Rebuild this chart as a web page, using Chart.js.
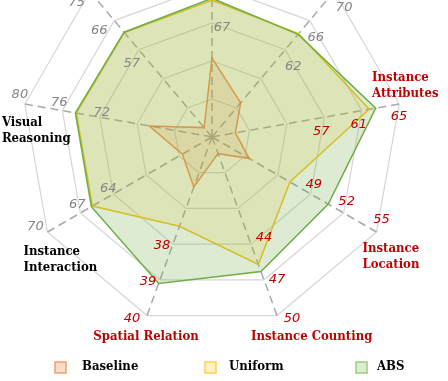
<!DOCTYPE html>
<html>
<head>
<meta charset="utf-8">
<script src="https://cdn.jsdelivr.net/npm/chart.js@4.4.0/dist/chart.umd.min.js"></script>
<style>
  body { margin: 0; overflow: hidden; background: #fff; }
  #wrap { position: absolute; left: 0; top: -53px; width: 448px; height: 434px; }
</style>
</head>
<body>
<div id="wrap"><canvas id="radarChart" width="448" height="434"></canvas></div>
<script>
// eixos, a partir do topo e em sentido horario
const categorias = ['Scene Understanding', 'Instance Identity', 'Instance Attributes', 'Instance Location',
  'Instance Counting', 'Spatial Relation', 'Instance Interaction', 'Visual Reasoning', 'Text Understanding'];

const baseline = [63.3, 54.7, 47.5, 43.4, 36.4, 36.4, 57.7, 66.7, 32.9];
const uniform = [69.4, 64.2, 61.8, 47.1, 45.7, 37.5, 65.9, 74.5, 62.3];
const abs = [69.6, 64.1, 62.5, 50.6, 46.3, 39.1, 66.0, 74.6, 62.4];

// rotulos dos aneis 3, 4 e 5 de cada eixo
const ticksEixo = [[67, 71, 75], [62, 66, 70], [57, 61, 65], [49, 52, 55], [44, 47, 50],
  [38, 39, 40], [64, 67, 70], [72, 76, 80], [57, 66, 75]];

const series = ['Baseline', 'Uniform', 'ABS'];

// cada eixo tem a sua propria escala: 5 aneis, passo = diferenca entre os ticks
function normalizar(i, v) {
  const t = ticksEixo[i];
  const passo = t[2] - t[1];
  const minimo = t[2] - 5 * passo;
  return (v - minimo) / passo;
}

const vermelho = '#c00000';
const cinza = '#858585';
const corEixo = [cinza, cinza, vermelho, vermelho, vermelho, vermelho, cinza, cinza, cinza];
const corRotulo = ['#000', '#000', vermelho, vermelho, vermelho, vermelho, '#000', '#000', '#000'];

const linhasRotulo = [['Scene Understanding'], ['Instance Identity'], ['Instance', 'Attributes'], ['Instance', 'Location'],
  ['Instance Counting'], ['Spatial Relation'], ['Instance', 'Interaction'], ['Visual', 'Reasoning'], ['Text Understanding']];
// deslocamento do rotulo em relacao ao vertice externo [dx, dy, alinhamento]
const posRotulo = [[0, -24, 'center'], [0, -24, 'center'], [-27, -26, 'left'], [-14, 17, 'left'],
  [-26, 21, 'left'], [-1, 21, 'center'], [-24, 20, 'left'], [-23, 19, 'left'], [0, -24, 'center']];
// deslocamento dos numeros em cada anel
const posTick = [
  [[10, 5], [10, 5], [10, 5]],
  [[8, 17], [6, 17], [10, 16]],
  [[-3, 14], [-3, 14], [0, 13]],
  [[3, -9], [3, -11], [5, -12]],
  [[13, -6], [13, 0], [15, 3]],
  [[-11, 2], [-12, 2], [-15, 3]],
  [[-5, -5], [-3, -8], [-12, -5]],
  [[2, -5], [-3, -8], [-5, -9]],
  [[-7, 14], [-15, 10], [-13, 11]]
];

const legendaX = [55, 205, 356];
const legendaTextoX = [82, 229, 377];
const legendaBorda = ['#f0a070', '#ffd24d', '#9fcc80'];
const legendaFundo = ['#fbdcc8', '#fff3c4', '#dcedd0'];

const fonteRotulo = 'bold condensed 13px "DejaVu Serif Condensed", "DejaVu Serif"';

const rotulosPlugin = {
  id: 'rotulosPlugin',
  afterDraw(chart) {
    const ctx = chart.ctx;
    const r = chart.scales.r;
    const raio = r.getDistanceFromCenterForValue(5);
    ctx.save();

    ctx.font = 'italic 13px "DejaVu Sans"';
    ctx.textAlign = 'center';
    ctx.textBaseline = 'middle';
    categorias.forEach((cat, i) => {
      ticksEixo[i].forEach((t, k) => {
        const p = r.getPointPosition(i, r.getDistanceFromCenterForValue(normalizar(i, t)));
        ctx.fillStyle = corEixo[i];
        ctx.fillText(String(t), p.x + posTick[i][k][0], p.y + posTick[i][k][1]);
      });
    });

    ctx.font = fonteRotulo;
    categorias.forEach((cat, i) => {
      const p = r.getPointPosition(i, raio);
      ctx.fillStyle = corRotulo[i];
      ctx.textAlign = posRotulo[i][2];
      linhasRotulo[i].forEach((linha, j) => {
        ctx.fillText(linha, p.x + posRotulo[i][0], p.y + posRotulo[i][1] + j * 16);
      });
    });

    // legenda
    const yLeg = chart.height - 14;
    ctx.textAlign = 'left';
    series.forEach((nome, i) => {
      ctx.fillStyle = legendaFundo[i];
      ctx.fillRect(legendaX[i], yLeg - 5, 11, 11);
      ctx.strokeStyle = legendaBorda[i];
      ctx.lineWidth = 1.5;
      ctx.strokeRect(legendaX[i], yLeg - 5, 11, 11);
      ctx.fillStyle = '#000';
      ctx.fillText(nome, legendaTextoX[i], yLeg);
    });
    ctx.restore();
  }
};

const ctx = document.getElementById('radarChart').getContext('2d');

const myChart = new Chart(ctx, {
  type: 'radar',
  data: {
    labels: categorias,
    datasets: [
      {
        label: series[0],
        data: baseline.map((v, i) => normalizar(i, v)),
        borderColor: 'rgba(237,135,55,0.85)',
        backgroundColor: 'rgba(237,125,49,0.15)',
        borderWidth: 1.5,
        pointRadius: 0,
        fill: true,
        order: 1
      },
      {
        label: series[1],
        data: uniform.map((v, i) => normalizar(i, v)),
        borderColor: '#f5c518',
        backgroundColor: 'rgba(255,192,0,0.14)',
        borderWidth: 1.5,
        pointRadius: 0,
        fill: true,
        order: 2
      },
      {
        label: series[2],
        data: abs.map((v, i) => normalizar(i, v)),
        borderColor: '#70ad47',
        backgroundColor: 'rgba(112,173,71,0.24)',
        borderWidth: 1.5,
        pointRadius: 0,
        fill: true,
        order: 0
      }
    ]
  },
  options: {
    responsive: false,
    animation: false,
    devicePixelRatio: 1,
    layout: { padding: { left: 22, right: 46, top: 0, bottom: 54 } },
    plugins: {
      legend: { display: false },
      tooltip: { enabled: false }
    },
    scales: {
      r: {
        min: 0,
        max: 5,
        ticks: { display: false, stepSize: 1 },
        grid: { color: '#d6d6d6', lineWidth: 1.2 },
        angleLines: { color: '#a8a8b2', lineWidth: 1.5, borderDash: [8, 5] },
        pointLabels: { display: false }
      }
    }
  },
  plugins: [rotulosPlugin]
});
</script>
</body>
</html>
